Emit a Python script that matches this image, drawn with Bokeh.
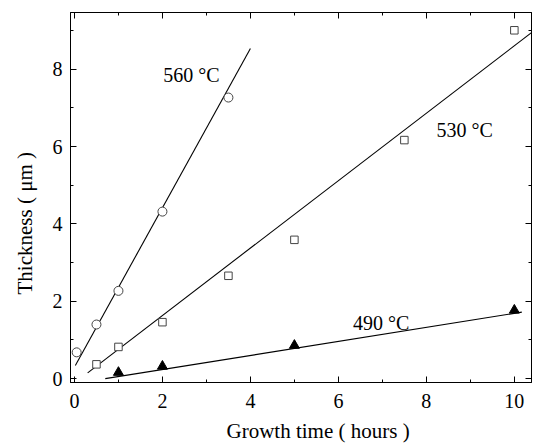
from bokeh.plotting import figure
from bokeh.models import LinearAxis, Range1d, SingleIntervalTicker, CustomJSTickFormatter, Title
from bokeh.core.properties import value
from bokeh.embed import file_html
from bokeh.resources import INLINE

# data
t560 = [0.05, 0.5, 1.0, 2.0, 3.5]
d560 = [0.68, 1.40, 2.27, 4.32, 7.27]
fit560_x = [0.02, 4.0]
fit560_y = [0.34, 8.54]

t530 = [0.5, 1.0, 2.0, 3.5, 5.0, 7.5, 10.0]
d530 = [0.37, 0.82, 1.46, 2.66, 3.59, 6.17, 9.01]
fit530_x = [0.3, 10.39]
fit530_y = [0.15, 8.95]

t490 = [1.0, 2.0, 5.0, 10.0]
d490 = [0.16, 0.32, 0.86, 1.77]
fit490_x = [0.7, 10.17]
fit490_y = [0.0, 1.72]

label_text = ["560 °C", "530 °C", "490 °C"]
label_x = [2.02, 8.23, 6.33]
label_y = [7.85, 6.44, 1.45]

x_title = "Growth time ( hours )"
y_title = "Thickness ( μm )"

FONT = "Liberation Serif"

p = figure(width=533, height=448, output_backend="svg", toolbar_location=None,
           x_range=Range1d(-0.09, 10.39), y_range=Range1d(-0.1, 9.47),
           min_border_left=70, min_border_right=2, min_border_top=12, min_border_bottom=65)
p.grid.visible = False
p.outline_line_color = "black"
p.outline_line_width = 1
p.background_fill_color = "white"
p.border_fill_color = "white"

for ax in [p.xaxis[0], p.yaxis[0]]:
    ax.ticker = SingleIntervalTicker(interval=2, num_minor_ticks=2)
    ax.major_tick_in = 6
    ax.major_tick_out = 0
    ax.minor_tick_in = 3
    ax.minor_tick_out = 0
    ax.axis_line_color = "black"
    ax.major_tick_line_color = "black"
    ax.minor_tick_line_color = "black"
    ax.major_label_text_font = FONT
    ax.major_label_text_font_size = "20px"
    ax.major_label_text_color = "black"
p.xaxis[0].major_label_standoff = 11
p.yaxis[0].major_label_standoff = 8

for loc in ["above", "right"]:
    ax = LinearAxis(ticker=SingleIntervalTicker(interval=2, num_minor_ticks=2),
                    formatter=CustomJSTickFormatter(code="return '';"))
    ax.major_tick_in = 6
    ax.major_tick_out = 0
    ax.minor_tick_in = 3
    ax.minor_tick_out = 0
    ax.major_label_standoff = 0
    ax.axis_line_color = "black"
    p.add_layout(ax, loc)

p.add_layout(Title(text=x_title, align="left", offset=156, standoff=12,
                   text_font=FONT, text_font_size="21px", text_font_style="normal",
                   text_color="black"), "below")
p.add_layout(Title(text=y_title, align="left", offset=88, standoff=22, vertical_align="top",
                   text_font=FONT, text_font_size="21px", text_font_style="normal",
                   text_color="black"), "left")

p.line(fit560_x, fit560_y, line_color="black", line_width=1.1)
p.line(fit530_x, fit530_y, line_color="black", line_width=1.1)
p.line(fit490_x, fit490_y, line_color="black", line_width=1.1)

p.scatter(t560, d560, marker="circle", size=9, fill_color="white", line_color="#444444", line_width=1)
p.scatter(t530, d530, marker="square", size=7.5, fill_color="white", line_color="#444444", line_width=1)
p.scatter(t490, d490, marker="triangle", size=10, fill_color="black", line_color="black", line_width=1)

p.text(label_x, label_y, text=label_text, text_font=value(FONT), text_font_size="20px",
       text_color="black", text_baseline="alphabetic", text_align="left")

open("out.html", "w").write(file_html(p, INLINE))
